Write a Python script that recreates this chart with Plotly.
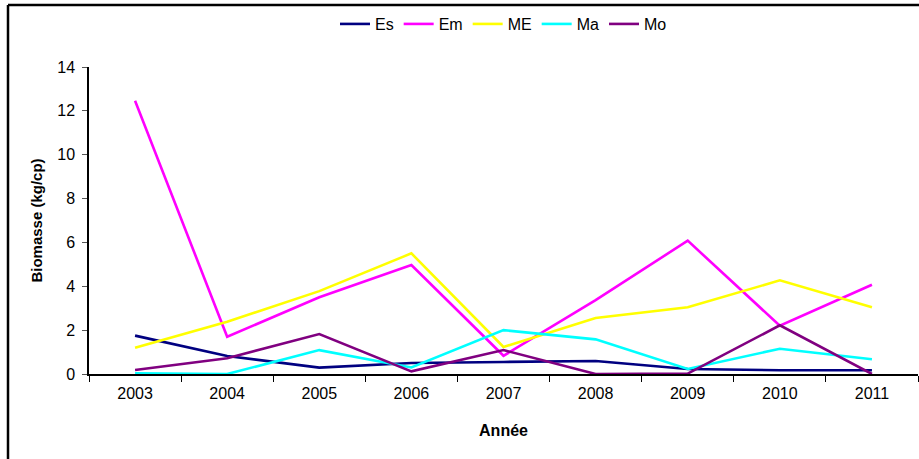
import plotly.graph_objects as go

years = ["2003", "2004", "2005", "2006", "2007", "2008", "2009", "2010", "2011"]
es = [1.75, 0.82, 0.29, 0.50, 0.55, 0.59, 0.23, 0.17, 0.17]
em = [12.46, 1.70, 3.50, 4.97, 0.83, 3.37, 6.08, 2.20, 4.07]
me = [1.20, 2.38, 3.78, 5.50, 1.23, 2.55, 3.04, 4.27, 3.04]
ma = [0.03, 0.00, 1.09, 0.30, 2.00, 1.58, 0.23, 1.15, 0.67]
mo = [0.18, 0.72, 1.82, 0.12, 1.09, 0.00, 0.02, 2.22, 0.00]

series = [("Es", es, "#000080"), ("Em", em, "#FF00FF"), ("ME", me, "#FFFF00"),
          ("Ma", ma, "#00FFFF"), ("Mo", mo, "#800080")]

FONT = "Liberation Sans, Arial, sans-serif"

fig = go.Figure()
for name, vals, col in series:
    fig.add_trace(go.Scatter(x=years, y=vals, name=name, mode="lines",
                             line=dict(color=col, width=2.6)))

bx = (8 - 89) / 829
by = (374 - 5) / 307

fig.update_layout(
    width=919, height=459,
    margin=dict(l=89, r=1, t=67, b=85),
    paper_bgcolor="white", plot_bgcolor="white",
    font=dict(family=FONT, size=16, color="black"),
    showlegend=True,
    legend=dict(orientation="h", x=0.5, xanchor="center", y=1.14, yanchor="middle",
                font=dict(size=16), bgcolor="rgba(0,0,0,0)", itemwidth=30,
                tracegroupgap=0),
    xaxis=dict(type="category", range=[-0.5, 8.5], showgrid=False, zeroline=False,
               showline=True, linecolor="black", linewidth=1.5,
               ticks="outside", tickson="boundaries", ticklen=6, tickcolor="black",
               tickfont=dict(size=16), ticklabelstandoff=4,
               title=dict(text="<b>Année</b>", font=dict(size=16), standoff=24)),
    yaxis=dict(range=[0, 14], dtick=2, showgrid=False, zeroline=False,
               showline=True, linecolor="black", linewidth=1.5,
               ticks="outside", ticklen=5, tickcolor="#555",
               tickfont=dict(size=16), ticklabelstandoff=4,
               title=dict(text="<b>Biomasse (kg/cp)</b>", font=dict(size=15), standoff=11)),
    shapes=[
        dict(type="line", xref="paper", yref="paper", x0=bx, x1=1.05, y0=by, y1=by,
             line=dict(color="black", width=2.5)),
        dict(type="line", xref="paper", yref="paper", x0=bx, x1=bx, y0=by, y1=-0.5,
             line=dict(color="black", width=2.5)),
    ],
)

fig.write_html("out.html", config={"displayModeBar": False},
               post_script="document.body.style.margin='0';document.body.style.overflow='hidden';")
